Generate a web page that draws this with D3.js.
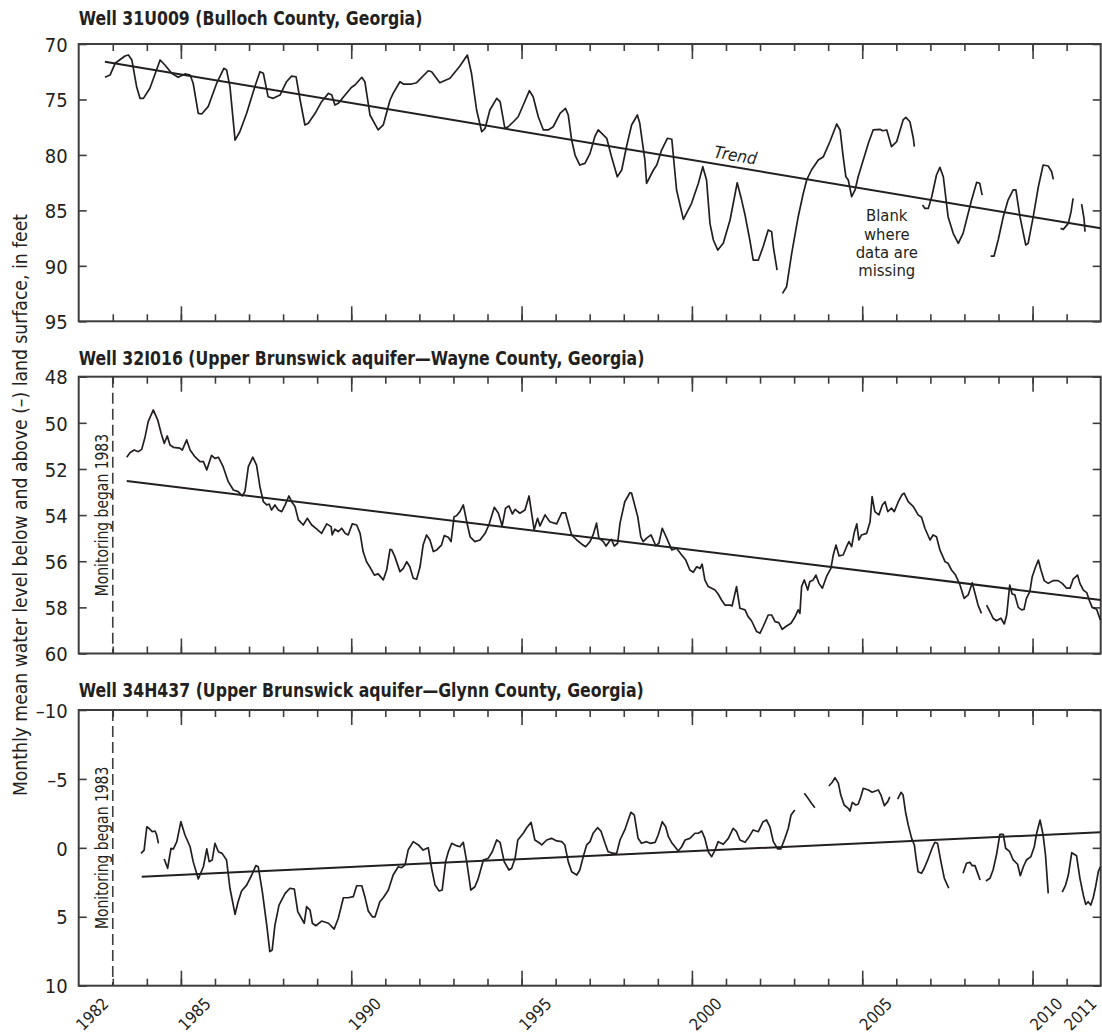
<!DOCTYPE html>
<html>
<head>
<meta charset="utf-8">
<script src="https://cdn.jsdelivr.net/npm/d3@7/dist/d3.min.js"></script>
<style>
  body { margin: 0; background: #fff; }
  svg text { font-family: "Liberation Sans Narrow", "Arial Narrow", "DejaVu Sans Condensed", sans-serif; fill: #231f20; }
  .title { font-weight: bold; font-size: 19px; }
  .tick-label { font-size: 20px; }
  .year-label { font-size: 16.5px; }
  .note { font-size: 20px; }
</style>
</head>
<body>
<div id="chart-area"></div>
<script>
/*
*    Monthly mean water level, three wells in coastal Georgia
*    data read off the published hydrographs
*/

// ---- data ([year, level in feet below land surface]) ----

// Well 31U009 - segments split where data are missing
var well1Segments = [
  [[1982.77,73.0],[1982.92,72.8],[1983.07,71.74],[1983.36,71.08],[1983.46,70.99],[1983.56,71.44],[1983.70,73.85],[1983.80,74.9],[1983.90,74.9],[1984.09,73.99],[1984.39,71.44],[1984.53,71.89],[1984.73,72.64],[1984.92,73.0],[1985.12,72.7],[1985.27,72.8],[1985.36,73.54],[1985.51,76.25],[1985.61,76.31],[1985.80,75.65],[1986.05,73.54],[1986.26,72.19],[1986.34,72.34],[1986.44,73.85],[1986.59,78.66],[1986.73,77.91],[1986.93,76.25],[1987.17,73.85],[1987.32,72.5],[1987.42,72.64],[1987.56,74.75],[1987.71,74.9],[1987.91,74.6],[1988.10,73.4],[1988.25,72.89],[1988.38,72.95],[1988.50,75.05],[1988.64,77.3],[1988.74,77.15],[1988.94,76.25],[1989.13,75.2],[1989.33,74.45],[1989.43,74.6],[1989.52,75.5],[1989.62,75.35],[1989.82,74.6],[1990.01,73.9],[1990.11,73.7],[1990.31,73.0],[1990.40,73.4],[1990.55,76.4],[1990.79,77.75],[1990.94,77.3],[1991.14,75.05],[1991.23,74.45],[1991.43,73.4],[1991.53,73.61],[1991.77,73.61],[1991.92,73.49],[1992.26,72.41],[1992.36,72.5],[1992.60,73.49],[1992.90,73.09],[1993.19,71.98],[1993.41,71.0],[1993.53,72.64],[1993.68,75.95],[1993.83,77.91],[1993.93,77.6],[1994.07,75.95],[1994.27,74.9],[1994.37,75.2],[1994.51,77.6],[1994.61,77.46],[1994.76,77.01],[1994.90,76.56],[1995.05,75.5],[1995.23,74.21],[1995.34,74.75],[1995.49,76.56],[1995.64,77.75],[1995.78,77.75],[1995.93,77.46],[1996.13,76.25],[1996.29,75.8],[1996.37,76.4],[1996.47,78.66],[1996.57,80.01],[1996.71,80.91],[1996.86,80.76],[1997.01,79.86],[1997.15,78.36],[1997.25,77.75],[1997.50,78.5],[1997.64,80.16],[1997.81,81.97],[1997.94,81.36],[1998.08,79.26],[1998.23,77.3],[1998.40,76.4],[1998.47,77.15],[1998.62,80.46],[1998.67,82.56],[1998.87,81.36],[1998.97,80.91],[1999.11,79.56],[1999.28,78.5],[1999.41,78.59],[1999.55,83.16],[1999.75,85.81],[1999.99,84.36],[2000.19,82.56],[2000.32,81.06],[2000.43,82.26],[2000.53,86.17],[2000.63,87.67],[2000.76,88.58],[2000.92,87.97],[2001.12,85.87],[2001.33,82.51],[2001.46,84.07],[2001.56,85.42],[2001.70,87.67],[2001.80,89.48],[2001.95,89.48],[2002.09,88.28],[2002.24,86.77],[2002.34,86.92],[2002.39,88.28],[2002.50,90.38]],
  [[2002.66,92.48],[2002.78,91.88],[2002.93,88.87],[2003.12,85.57],[2003.27,83.46],[2003.37,82.26],[2003.51,81.36],[2003.71,80.46],[2003.86,80.16],[2004.05,78.81],[2004.25,77.21],[2004.35,77.75],[2004.44,80.16],[2004.52,81.97],[2004.59,82.26],[2004.69,83.77],[2004.79,83.16],[2004.88,81.97],[2005.03,80.46],[2005.18,78.95],[2005.32,77.75],[2005.52,77.69],[2005.60,77.82],[2005.72,77.75],[2005.86,79.26],[2006.01,78.81],[2006.20,76.85],[2006.28,76.61],[2006.40,77.01],[2006.50,78.5],[2006.53,79.26]],
  [[2006.77,84.52],[2006.84,84.82],[2006.94,84.82],[2007.04,83.77],[2007.18,81.81],[2007.28,81.12],[2007.38,81.97],[2007.52,85.57],[2007.67,87.07],[2007.82,87.97],[2007.96,87.07],[2008.06,85.87],[2008.21,84.07],[2008.36,82.47],[2008.45,82.56],[2008.52,83.62]],
  [[2008.77,89.12],[2008.87,89.12],[2008.99,87.67],[2009.14,85.57],[2009.28,84.07],[2009.43,83.16],[2009.51,83.16],[2009.63,85.57],[2009.80,88.12],[2009.87,87.97],[2010.02,85.57],[2010.17,82.87],[2010.31,80.91],[2010.46,81.0],[2010.56,81.52],[2010.61,82.2]],
  [[2010.82,86.62],[2010.90,86.71],[2011.05,86.17],[2011.13,85.12],[2011.19,83.91]],
  [[2011.44,84.43],[2011.51,85.72],[2011.54,86.92]]
];
var well1Trend = [[1982.77,71.6],[2012.0,86.62]];

// Well 32I016
var well2Segments = [
  [[1983.41,51.49],[1983.51,51.29],[1983.63,51.18],[1983.75,51.25],[1983.85,51.15],[1983.95,50.6],[1984.04,49.95],[1984.19,49.44],[1984.32,49.88],[1984.42,50.45],[1984.51,50.89],[1984.60,50.57],[1984.68,50.96],[1984.78,51.06],[1984.97,51.1],[1985.04,51.18],[1985.17,50.74],[1985.27,51.18],[1985.41,51.47],[1985.56,51.68],[1985.66,51.68],[1985.76,52.04],[1985.90,51.41],[1986.00,51.54],[1986.10,51.49],[1986.24,51.9],[1986.39,52.55],[1986.54,52.91],[1986.68,52.98],[1986.80,53.17],[1986.88,52.98],[1986.98,51.9],[1987.11,51.49],[1987.22,51.83],[1987.32,52.77],[1987.42,53.42],[1987.52,53.56],[1987.59,53.52],[1987.66,53.78],[1987.76,53.56],[1987.86,53.78],[1987.96,53.85],[1988.06,53.56],[1988.17,53.17],[1988.25,53.42],[1988.35,53.63],[1988.45,54.21],[1988.59,54.43],[1988.71,54.14],[1988.84,54.43],[1988.99,54.61],[1989.13,54.79],[1989.28,54.38],[1989.41,54.5],[1989.44,54.86],[1989.52,54.61],[1989.62,54.72],[1989.72,54.57],[1989.82,54.79],[1989.91,54.86],[1990.03,54.38],[1990.16,54.43],[1990.26,54.79],[1990.35,55.59],[1990.45,56.02],[1990.55,56.26],[1990.68,56.6],[1990.79,56.55],[1990.94,56.81],[1991.04,56.38],[1991.14,55.48],[1991.19,55.51],[1991.28,55.8],[1991.43,56.45],[1991.53,56.31],[1991.63,56.02],[1991.72,56.24],[1991.82,56.74],[1991.92,56.78],[1992.02,56.24],[1992.11,55.3],[1992.21,54.86],[1992.31,55.08],[1992.41,55.58],[1992.51,55.51],[1992.65,55.3],[1992.73,54.89],[1992.85,54.96],[1992.93,55.15],[1993.02,54.07],[1993.09,54.03],[1993.19,53.85],[1993.29,53.56],[1993.39,54.29],[1993.49,54.94],[1993.63,55.15],[1993.78,55.08],[1993.93,54.79],[1994.04,54.43],[1994.20,53.66],[1994.32,53.92],[1994.43,54.47],[1994.53,53.7],[1994.63,53.6],[1994.73,53.95],[1994.81,53.75],[1994.95,53.92],[1995.10,53.78],[1995.22,53.17],[1995.31,54.07],[1995.37,54.64],[1995.47,54.14],[1995.54,54.47],[1995.69,53.99],[1995.83,54.29],[1996.03,54.38],[1996.18,53.9],[1996.29,53.9],[1996.47,54.86],[1996.62,55.08],[1996.76,55.25],[1996.88,55.37],[1997.01,55.15],[1997.10,54.86],[1997.20,54.35],[1997.27,55.0],[1997.40,55.15],[1997.48,55.34],[1997.59,55.11],[1997.64,55.05],[1997.72,55.34],[1997.82,55.22],[1997.89,54.35],[1998.03,53.42],[1998.18,53.03],[1998.23,53.05],[1998.41,54.07],[1998.50,54.94],[1998.57,55.15],[1998.67,55.0],[1998.80,54.86],[1998.94,55.33],[1999.03,55.22],[1999.13,54.57],[1999.26,55.0],[1999.41,55.51],[1999.55,55.44],[1999.70,55.73],[1999.82,55.95],[1999.94,56.38],[2000.04,56.48],[2000.14,56.24],[2000.24,56.31],[2000.30,56.13],[2000.38,56.81],[2000.48,57.1],[2000.68,57.25],[2000.77,57.42],[2000.87,57.68],[2000.97,57.9],[2001.12,57.9],[2001.18,57.94],[2001.31,57.1],[2001.41,58.04],[2001.56,58.11],[2001.65,58.4],[2001.75,58.58],[2001.90,59.05],[2002.00,59.12],[2002.09,58.84],[2002.24,58.33],[2002.34,58.33],[2002.44,58.62],[2002.55,58.66],[2002.65,58.95],[2002.78,58.81],[2002.91,58.69],[2003.02,58.43],[2003.12,58.11],[2003.17,58.26],[2003.22,57.1],[2003.30,56.81],[2003.40,57.25],[2003.46,56.89],[2003.56,56.81],[2003.64,56.6],[2003.73,56.96],[2003.83,57.17],[2003.95,56.67],[2004.08,56.31],[2004.15,55.73],[2004.23,55.3],[2004.32,55.77],[2004.44,55.73],[2004.54,55.37],[2004.61,55.15],[2004.69,55.37],[2004.76,54.79],[2004.84,54.38],[2004.90,55.08],[2004.98,54.86],[2005.13,54.79],[2005.23,54.29],[2005.29,53.2],[2005.37,53.85],[2005.49,53.99],[2005.59,53.56],[2005.67,53.42],[2005.75,53.85],[2005.86,53.7],[2005.94,53.85],[2006.06,53.42],[2006.16,53.13],[2006.23,53.05],[2006.35,53.42],[2006.50,53.63],[2006.64,53.99],[2006.74,54.09],[2006.84,54.57],[2006.99,55.08],[2007.08,54.86],[2007.18,54.94],[2007.28,55.51],[2007.43,56.02],[2007.52,56.09],[2007.62,56.38],[2007.74,56.6],[2007.87,57.03],[2007.99,57.61],[2008.11,57.46],[2008.23,56.93],[2008.31,57.39],[2008.40,57.9],[2008.50,58.26]],
  [[2008.65,57.9],[2008.75,58.19],[2008.84,58.47],[2008.94,58.58],[2009.07,58.47],[2009.17,58.72],[2009.24,58.33],[2009.33,57.03],[2009.40,57.42],[2009.48,57.46],[2009.58,58.0],[2009.68,58.11],[2009.75,58.08],[2009.82,57.61],[2009.92,57.32],[2009.99,56.67],[2010.09,56.24],[2010.17,55.95],[2010.24,56.35],[2010.34,56.84],[2010.46,56.96],[2010.61,56.84],[2010.75,56.84],[2010.87,56.96],[2011.00,57.17],[2011.10,57.17],[2011.19,56.78],[2011.32,56.6],[2011.39,56.96],[2011.49,57.25],[2011.59,57.36],[2011.66,57.68],[2011.75,58.0],[2011.88,58.08],[2011.99,58.55]]
];
var well2Trend = [[1983.41,52.52],[2012.0,57.68]];

// Well 34H437 (negative = above land surface)
var well3Segments = [
  [[1983.83,0.40],[1983.92,0.16],[1984.0,-1.53],[1984.06,-1.42],[1984.16,-1.17],[1984.24,-1.22],[1984.29,-0.93],[1984.34,-0.33]],
  [[1984.51,0.81],[1984.61,1.48],[1984.71,0.03],[1984.78,0.08],[1984.88,-0.45],[1985.0,-1.9],[1985.12,-0.93],[1985.27,-0.08],[1985.36,1.0],[1985.51,2.26],[1985.66,1.37],[1985.76,0.08],[1985.83,1.0],[1985.92,0.88],[1986.0,-0.33],[1986.10,0.28],[1986.21,0.40],[1986.34,0.88],[1986.44,2.93],[1986.59,4.82],[1986.68,3.91],[1986.78,3.13],[1986.93,2.7],[1987.08,1.97],[1987.20,1.29],[1987.27,1.37],[1987.39,3.18],[1987.52,5.6],[1987.61,7.53],[1987.68,7.41],[1987.76,5.6],[1987.88,4.15],[1988.06,3.3],[1988.20,2.93],[1988.33,2.99],[1988.43,4.63],[1988.62,5.47],[1988.69,4.27],[1988.79,4.51],[1988.86,5.47],[1988.96,5.65],[1989.13,5.31],[1989.33,5.47],[1989.50,5.89],[1989.62,5.11],[1989.77,3.62],[1989.91,3.62],[1990.06,3.54],[1990.16,2.75],[1990.31,2.75],[1990.40,3.54],[1990.50,4.58],[1990.62,5.0],[1990.70,5.0],[1990.84,3.91],[1990.94,3.62],[1991.09,3.06],[1991.23,1.97],[1991.38,1.37],[1991.48,1.44],[1991.58,1.24],[1991.67,0.16],[1991.82,-0.45],[1991.97,-0.21],[1992.11,0.16],[1992.26,-0.01],[1992.36,1.48],[1992.46,2.7],[1992.58,3.13],[1992.67,3.06],[1992.77,1.0],[1992.85,0.28],[1992.95,-0.33],[1993.09,-0.16],[1993.19,-0.08],[1993.29,-0.4],[1993.39,1.0],[1993.51,3.06],[1993.63,2.82],[1993.73,2.21],[1993.88,0.88],[1994.02,0.76],[1994.14,0.28],[1994.27,-0.57],[1994.37,-0.4],[1994.49,1.0],[1994.63,1.61],[1994.71,1.48],[1994.81,0.76],[1994.89,-0.57],[1995.05,-1.06],[1995.15,-1.46],[1995.28,-1.85],[1995.39,-0.57],[1995.54,-0.33],[1995.59,-0.21],[1995.74,-0.57],[1995.88,-0.69],[1996.03,-0.5],[1996.18,-0.45],[1996.27,-0.21],[1996.37,1.0],[1996.47,1.73],[1996.62,1.97],[1996.71,1.61],[1996.81,0.64],[1996.91,-0.21],[1997.01,-0.45],[1997.10,-1.06],[1997.23,-1.46],[1997.33,-1.22],[1997.45,-0.33],[1997.54,0.28],[1997.69,0.40],[1997.79,0.40],[1997.89,-0.57],[1998.03,-1.3],[1998.13,-2.02],[1998.21,-2.58],[1998.31,-2.38],[1998.42,-0.69],[1998.52,-0.33],[1998.67,-0.45],[1998.77,-0.33],[1998.92,-0.4],[1999.01,-0.93],[1999.13,-1.9],[1999.23,-1.53],[1999.31,-0.81],[1999.42,-0.33],[1999.60,0.23],[1999.70,-0.08],[1999.80,-0.57],[1999.94,-0.69],[2000.09,-1.06],[2000.19,-1.06],[2000.29,-1.22],[2000.38,-0.69],[2000.48,0.28],[2000.58,0.64],[2000.68,0.16],[2000.77,-0.45],[2000.92,-0.26],[2001.07,-0.69],[2001.21,-1.42],[2001.31,-1.17],[2001.41,-0.57],[2001.56,-0.4],[2001.65,-0.69],[2001.80,-1.3],[2001.95,-1.17],[2002.09,-1.9],[2002.19,-2.02],[2002.29,-1.53],[2002.39,-0.45],[2002.52,0.08],[2002.61,0.08],[2002.73,-0.69],[2002.83,-1.42],[2002.91,-2.38],[2003.02,-2.75]],
  [[2003.30,-3.96],[2003.41,-3.59],[2003.51,-3.23],[2003.61,-2.91]],
  [[2004.02,-4.49],[2004.12,-4.76],[2004.20,-5.09],[2004.30,-4.68],[2004.37,-3.83],[2004.47,-3.11],[2004.59,-2.87],[2004.64,-2.67],[2004.71,-3.3],[2004.81,-3.11],[2004.88,-3.16],[2004.96,-3.71],[2005.03,-4.32],[2005.18,-4.2],[2005.29,-4.03],[2005.47,-4.2],[2005.55,-3.83],[2005.65,-3.06],[2005.75,-3.35],[2005.81,-3.71]],
  [[2006.04,-3.54],[2006.14,-4.03],[2006.20,-3.83],[2006.27,-2.62],[2006.35,-1.66],[2006.45,-0.69],[2006.53,-0.21],[2006.58,0.76],[2006.64,1.73],[2006.74,1.85],[2006.82,1.48],[2006.94,0.76],[2007.05,0.03],[2007.13,-0.4],[2007.21,-0.33],[2007.31,1.0],[2007.41,2.21],[2007.54,2.93]],
  [[2007.96,1.85],[2008.06,1.12],[2008.16,1.05],[2008.23,1.29],[2008.31,1.29],[2008.39,1.85],[2008.46,2.33]],
  [[2008.63,2.4],[2008.75,2.21],[2008.84,1.61],[2008.94,0.52],[2009.04,-0.98],[2009.14,-0.98],[2009.21,0.03],[2009.33,0.28],[2009.43,0.88],[2009.56,1.19],[2009.64,2.02],[2009.73,1.37],[2009.82,0.88],[2009.95,0.64],[2010.05,-0.08],[2010.12,-1.06],[2010.22,-2.02],[2010.31,-0.93],[2010.38,0.52],[2010.46,3.3]],
  [[2010.87,3.22],[2010.97,2.7],[2011.05,1.97],[2011.15,0.35],[2011.29,0.57],[2011.39,2.21],[2011.49,3.42],[2011.56,4.1],[2011.63,3.91],[2011.71,4.15],[2011.78,3.62],[2011.85,2.82],[2011.93,1.73],[2011.99,1.37]]
];
var well3Trend = [[1983.85,2.09],[2011.98,-1.13]];

// titles and tick labels
var panelTitles = [
  "Well 31U009 (Bulloch County, Georgia)",
  "Well 32I016 (Upper Brunswick aquifer\u2014Wayne County, Georgia)",
  "Well 34H437 (Upper Brunswick aquifer\u2014Glynn County, Georgia)"
];
var yTicks1 = [70, 75, 80, 85, 90, 95];
var yTicks2 = [48, 50, 52, 54, 56, 58, 60];
var yTicks3 = [-10, -5, 0, 5, 10];
var yearTicks = d3.range(1983, 2012);
var majorYears = [1985, 1990, 1995, 2000, 2005, 2010];
var yearLabels = [1982, 1985, 1990, 1995, 2000, 2005, 2010, 2011];
var monitoringStart = 1983;
var yAxisTitle = "Monthly mean water level below and above (\u2013) land surface, in feet";
var blankNote = ["Blank", "where", "data are", "missing"];

// ---- layout ----
const svgWidth = 1102,
      svgHeight = 1034;

var plotLeft = 78.7,
    plotRight = 1100.7;

var panelLayout = [
  { top: 44,  bottom: 321.3, titleY: 25 },
  { top: 376.7, bottom: 653.5, titleY: 365 },
  { top: 710, bottom: 985.7, titleY: 697 }
];

var panels = [
  { title: panelTitles[0], ticks: yTicks1, segments: well1Segments, trend: well1Trend, startLine: false },
  { title: panelTitles[1], ticks: yTicks2, segments: well2Segments, trend: well2Trend, startLine: true },
  { title: panelTitles[2], ticks: yTicks3, segments: well3Segments, trend: well3Trend, startLine: true }
];

var svg = d3.select("#chart-area").append("svg")
    .attr("width", svgWidth)
    .attr("height", svgHeight)
    .style("display", "block");

svg.append("rect")
    .attr("width", svgWidth)
    .attr("height", svgHeight)
    .attr("fill", "#fff");

// shared x scale (years)
var xScale = d3.scaleLinear()
    .domain([1982, 2012])
    .range([plotLeft, plotRight]);

var minus = function(v){ return v < 0 ? "\u2013" + Math.abs(v) : "" + v; };

// squeeze text a bit so it reads like the condensed face of the original
function condense(sel, factor){
    sel.each(function(){
        var w = this.getComputedTextLength();
        d3.select(this)
            .attr("textLength", w * factor)
            .attr("lengthAdjust", "spacingAndGlyphs");
    });
}

panels.forEach(function(p, i){
    var lay = panelLayout[i];
    var ticks = p.ticks;

    var yScale = d3.scaleLinear()
        .domain([ticks[0], ticks[ticks.length-1]])
        .range([lay.top, lay.bottom]);

    var g = svg.append("g").attr("class", "panel-" + i);

    // title
    g.append("text")
        .attr("class", "title")
        .attr("x", plotLeft)
        .attr("y", lay.titleY)
        .text(p.title)
        .call(condense, 0.92);

    // year ticks, top and bottom, pointing inwards
    var minorBottom = d3.axisBottom(xScale).tickValues(yearTicks).tickSize(-7).tickFormat("");
    var majorBottom = d3.axisBottom(xScale).tickValues(majorYears).tickSize(-15).tickFormat("");
    var minorTop = d3.axisTop(xScale).tickValues(yearTicks).tickSize(-7).tickFormat("");
    var majorTop = d3.axisTop(xScale).tickValues(majorYears).tickSize(-15).tickFormat("");

    [[minorBottom, lay.bottom], [majorBottom, lay.bottom], [minorTop, lay.top], [majorTop, lay.top]].forEach(function(a){
        g.append("g")
            .attr("class", "x-ticks")
            .attr("transform", "translate(0," + a[1] + ")")
            .call(a[0]);
    });

    // value ticks left (with labels) and right
    var yAxisLeft = d3.axisLeft(yScale).tickValues(ticks).tickSize(-8).tickPadding(11).tickFormat(minus);
    var yAxisRight = d3.axisRight(yScale).tickValues(ticks).tickSize(-8).tickFormat("");

    g.append("g")
        .attr("class", "y-axis")
        .attr("transform", "translate(" + plotLeft + ",0)")
        .call(yAxisLeft);
    g.append("g")
        .attr("class", "y-axis-right")
        .attr("transform", "translate(" + plotRight + ",0)")
        .call(yAxisRight);

    g.selectAll(".domain").remove();
    g.selectAll(".tick line").attr("stroke", "#3d3d3d").attr("stroke-width", 1.6);
    g.selectAll(".y-axis .tick text")
        .attr("class", "tick-label")
        .attr("fill", "#231f20")
        .attr("dy", "0.36em");

    // frame
    g.append("rect")
        .attr("x", plotLeft)
        .attr("y", lay.top)
        .attr("width", plotRight - plotLeft)
        .attr("height", lay.bottom - lay.top)
        .attr("fill", "none")
        .attr("stroke", "#3d3d3d")
        .attr("stroke-width", 2);

    // start of record
    if (p.startLine){
        g.append("line")
            .attr("x1", xScale(monitoringStart))
            .attr("x2", xScale(monitoringStart))
            .attr("y1", lay.top)
            .attr("y2", lay.bottom)
            .attr("stroke", "#3d3d3d")
            .attr("stroke-width", 1.6)
            .attr("stroke-dasharray", "11,5");
        g.append("text")
            .attr("class", "note")
            .attr("transform", "translate(" + (xScale(monitoringStart) - 5) + "," + ((lay.top + lay.bottom)/2) + ") rotate(-90)")
            .attr("text-anchor", "middle")
            .style("font-size", "18px")
            .text("Monitoring began " + monitoringStart)
            .call(condense, 0.86);
    }

    // line generator
    var line = d3.line()
        .x(function(d){ return xScale(d[0]); })
        .y(function(d){ return yScale(d[1]); });

    // trend
    g.append("path")
        .attr("class", "trend")
        .attr("fill", "none")
        .attr("stroke", "#231f20")
        .attr("stroke-width", 2)
        .attr("d", line(p.trend));

    // hydrograph segments
    g.selectAll(".level")
        .data(p.segments)
        .enter().append("path")
        .attr("class", "level")
        .attr("fill", "none")
        .attr("stroke", "#231f20")
        .attr("stroke-width", 1.7)
        .attr("stroke-linejoin", "round")
        .attr("d", line);

    // annotations on first panel
    if (i === 0){
        var t0 = p.trend[0], t1 = p.trend[1];
        var trendAt = function(yr){ return t0[1] + (t1[1]-t0[1]) * (yr - t0[0]) / (t1[0] - t0[0]); };
        var angle = Math.atan2(yScale(t1[1]) - yScale(t0[1]), xScale(t1[0]) - xScale(t0[0])) * 180 / Math.PI;
        var labelYear = 2001.25;
        g.append("text")
            .attr("class", "note")
            .attr("transform", "translate(" + xScale(labelYear) + "," + (yScale(trendAt(labelYear)) - 6) + ") rotate(" + angle + ")")
            .attr("text-anchor", "middle")
            .style("font-style", "italic")
            .style("font-size", "17px")
            .text("Trend");

        g.append("text")
            .attr("class", "note")
            .attr("text-anchor", "middle")
            .style("font-size", "16.5px")
            .selectAll("tspan")
            .data(blankNote)
            .enter().append("tspan")
            .attr("x", xScale(2005.72))
            .attr("y", function(d, k){ return yScale(86.0) + k * 18.2; })
            .text(function(d){ return d; });
    }

    // year labels under the last panel
    if (i === panels.length - 1){
        g.selectAll(".year-label")
            .data(yearLabels)
            .enter().append("text")
            .attr("class", "year-label")
            .attr("text-anchor", "end")
            .attr("transform", function(d){
                return "translate(" + (xScale(d + 1) - 3) + "," + (lay.bottom + 19) + ") rotate(-45)";
            })
            .text(function(d){ return d; });
    }
});

// shared y-axis title
svg.append("text")
    .attr("class", "note")
    .attr("transform", "translate(27," + 505 + ") rotate(-90)")
    .attr("text-anchor", "middle")
    .text(yAxisTitle)
    .call(condense, 0.957);
</script>
</body>
</html>
